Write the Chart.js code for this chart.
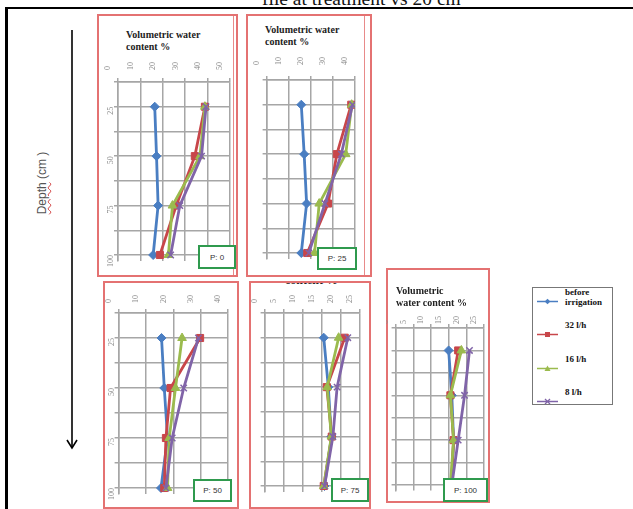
<!DOCTYPE html>
<html>
<head>
<meta charset="utf-8">
<script src="https://cdn.jsdelivr.net/npm/chart.js@4.4.1/dist/chart.umd.min.js"></script>
<style>
  html, body { margin: 0; padding: 0; background: #fff; }
  #page { position: relative; width: 633px; height: 509px; overflow: hidden; background: #fff; }
  .abs { position: absolute; }
  .frame-top { left: 5px; top: 7px; width: 628px; height: 2px; background: #000; }
  .frame-left { left: 5px; top: 7px; width: 3px; height: 502px; background: #000; }
  .caption { left: 262px; top: -11px; font: 19.5px "Liberation Serif", serif; color: #111; white-space: nowrap; line-height: 19.5px; }
  .panel { box-sizing: border-box; border: 2px solid #e47272; background: #fff; overflow: hidden; }
  .inner-line { width: 1px; background: #e88a8a; }
  .vtitle { font: bold 10px "Liberation Serif", serif; color: #222; line-height: 12px; white-space: nowrap; }
  .pbox { box-sizing: border-box; border: 2px solid #2f9a4e; background: #fff; font: 8px "Liberation Sans", sans-serif;
          color: #333; display: flex; align-items: center; justify-content: center; }
  canvas { position: absolute; }
  #legend { left: 532px; top: 287px; width: 81px; height: 118px; box-sizing: border-box; border: 1.5px solid #777; background: #fff; }
  .leg-item { position: absolute; left: 4px; }
  .leg-text { position: absolute; left: 28px; top: -5px; font: bold 9px "Liberation Serif", serif; color: #111; line-height: 10px; white-space: nowrap; }
  .depth { left: 42px; top: 183px; transform: translate(-50%, -50%) rotate(-90deg); font: 12px "Liberation Sans", sans-serif;
           color: #555; white-space: nowrap; }
  .depth u { text-decoration: underline wavy #d04040; text-decoration-thickness: 1px; }
</style>
</head>
<body>
<div id="page">
  <div class="abs caption">file at treatment vs 20 cm</div>
  <div class="abs frame-top"></div>
  <div class="abs frame-left"></div>

  <svg class="abs" style="left:60px;top:25px" width="25" height="430">
    <line x1="12" y1="5" x2="12" y2="423" stroke="#000" stroke-width="1.6"/>
    <polyline points="7,415 12,423 17,415" fill="none" stroke="#000" stroke-width="1.6"/>
  </svg>
  <div class="abs depth"><u>Depth</u> (cm )</div>
  <div id="legend" class="abs"></div>
</div>

<script>
// soil depth of each reading (cm)
const depths = [25, 50, 75, 100];
const seriesNames = ["before irrigation", "32 l/h", "16 l/h", "8 l/h"];
const panelLabels = ["P: 0", "P: 25", "P: 50", "P: 75", "P: 100"];
const xMaxima = [50, 40, 40, 25, 25];
const xSteps = [10, 10, 10, 5, 5];

// volumetric water content %, one row per panel, values at 25/50/75/100 cm
const beforeIrrigation = [
  [16.4, 17.2, 17.9, 15.7],
  [15.7, 17.0, 18.1, 15.7],
  [15.7, 16.7, 17.9, 15.5],
  [15.5, 16.7, 17.5, 15.7],
  [15.0, 15.9, 16.4, 15.9]
];
const flow32 = [
  [38.8, 34.3, 26.0, 18.7],
  [38.3, 31.8, 27.8, 18.4],
  [29.8, 19.0, 17.3, 16.7],
  [21.0, 16.3, 17.6, 15.5],
  [17.7, 15.5, 16.4, 15.7]
];
const flow16 = [
  [38.8, 36.6, 24.3, 22.5],
  [38.5, 35.8, 23.8, 21.7],
  [23.2, 20.8, 18.5, 17.9],
  [19.4, 16.4, 17.5, 15.5],
  [18.6, 15.5, 16.4, 15.5]
];
const flow8 = [
  [39.3, 37.3, 27.6, 23.5],
  [38.9, 33.8, 26.4, 19.1],
  [29.2, 23.8, 19.6, 17.3],
  [21.8, 19.0, 17.9, 15.7],
  [20.9, 19.5, 17.7, 15.9]
];

const seriesValues = [beforeIrrigation, flow32, flow16, flow8];
const seriesColors = ["#4a7ec2", "#c8464a", "#9bbb4e", "#8064a8"];
const seriesPoints = ["rectRot", "rect", "triangle", "crossRot"];
const seriesRadius = [4.5, 5, 5, 4.5];

// box = red frame, plot = grid area (left/right at x min/max, top at 12.5 cm, y100 at 100 cm)
const layoutInfo = [
  { box: [97, 14, 141, 263], plot: { left: 118, right: 230, top: 82, y100: 255 }, yLabels: true,
    labelPad: 8, title: ["Volumetric water", "content %"], titlePos: [126, 29], pbox: [198, 245, 38, 24], inner: 233 },
  { box: [246, 14, 126, 263], plot: { left: 256, right: 355, top: 80, y100: 253 }, yLabels: false,
    labelPad: 11, title: ["Volumetric water", "content %"], titlePos: [265, 24], pbox: [317, 247, 40, 23], inner: 364 },
  { box: [103, 281, 136, 228], plot: { left: 117, right: 228, top: 313, y100: 488 }, yLabels: true,
    labelPad: 6, title: null, pbox: [193, 479, 39, 23] },
  { box: [249, 281, 122, 228], plot: { left: 255, right: 360, top: 313, y100: 486 }, yLabels: false,
    labelPad: 6, title: null, pbox: [331, 478, 38, 24] },
  { box: [386, 268, 104, 235], plot: { left: 393, right: 485, top: 328, y100: 485 }, yLabels: false,
    labelPad: 0, title: ["Volumetric", "water content %"], titlePos: [396, 285], pbox: [443, 478, 45, 24] }
];

const page = document.getElementById("page");
const gridColor = "#a6a6a6";

function addDiv(cls, l, t, w, h, html) {
  const d = document.createElement("div");
  d.className = "abs " + cls;
  d.style.left = l + "px";
  d.style.top = t + "px";
  if (w != null) d.style.width = w + "px";
  if (h != null) d.style.height = h + "px";
  if (html != null) d.innerHTML = html;
  page.appendChild(d);
  return d;
}

layoutInfo.forEach(function (info, idx) {
  const [bl, bt, bw, bh] = info.box;
  const panel = addDiv("panel", bl, bt, bw, bh);
  if (idx === 3) {
    // clipped axis title peeking over the frame
    const t = document.createElement("div");
    t.className = "vtitle";
    t.style.cssText = "position:absolute;left:34px;top:-9px;font-size:12px;";
    t.textContent = "content %";
    panel.appendChild(t);
  }
  if (info.inner) addDiv("inner-line", info.inner, bt + 2, null, bh - 4);
  if (info.title) addDiv("vtitle", info.titlePos[0], info.titlePos[1], null, null, info.title.join("<br>"));

  const canvas = document.createElement("canvas");
  canvas.width = bw;
  canvas.height = bh;
  canvas.style.left = bl + "px";
  canvas.style.top = bt + "px";
  page.appendChild(canvas);

  const p = info.plot;
  const bottom = p.y100 + (p.y100 - p.top) * 3 / 87.5;

  const datasets = seriesValues.map(function (vals, k) {
    return {
      label: seriesNames[k],
      data: depths.map(function (d, i) { return { x: vals[idx][i], y: d }; }),
      showLine: true,
      borderColor: seriesColors[k],
      backgroundColor: seriesColors[k],
      borderWidth: 2.8,
      pointStyle: seriesPoints[k],
      pointRadius: seriesRadius[k],
      pointBorderWidth: k === 3 ? 1.5 : 1,
      order: 4 - k
    };
  });

  new Chart(canvas, {
    type: "scatter",
    data: { datasets: datasets },
    options: {
      responsive: false,
      animation: false,
      layout: { padding: { left: 0, top: 0, right: bl + bw - p.right, bottom: bt + bh - bottom } },
      plugins: { legend: { display: false }, tooltip: { enabled: false } },
      scales: {
        x: {
          type: "linear",
          position: "top",
          min: 0,
          max: xMaxima[idx],
          ticks: { stepSize: xSteps[idx], minRotation: 90, maxRotation: 90, padding: info.labelPad,
                   color: "#8a8a8a", font: { family: "Liberation Serif", size: 8 } },
          grid: { color: gridColor, lineWidth: 1.5, tickLength: 4 },
          border: { color: gridColor, width: 1.5 },
          afterFit: function (s) { s.height = p.top - bt; }
        },
        y: {
          type: "linear",
          reverse: true,
          min: 12.5,
          max: 103,
          ticks: { stepSize: 12.5, includeBounds: false, display: info.yLabels, minRotation: 90, maxRotation: 90,
                   padding: 3, color: "#8a8a8a", font: { family: "Liberation Serif", size: 8 },
                   callback: function (v) { return v % 25 === 0 ? v : ""; } },
          grid: { color: gridColor, lineWidth: 1.5, tickLength: 4 },
          border: { color: gridColor, width: 1.5 },
          afterFit: function (s) { s.width = p.left - bl; }
        }
      }
    }
  });

  const [pl, pt, pw, ph] = info.pbox;
  addDiv("pbox", pl, pt, pw, ph, panelLabels[idx]);
});

// legend with line + marker samples
const legend = document.getElementById("legend");
const legendRows = [8, 41, 75, 108];
const markerSvg = [
  function (c) { return '<rect x="8.5" y="2.5" width="4" height="4" fill="' + c + '" transform="rotate(45 10.5 4.5)"/>'; },
  function (c) { return '<rect x="8" y="2" width="5" height="5" fill="' + c + '"/>'; },
  function (c) { return '<polygon points="10.5,1.5 13.5,7 7.5,7" fill="' + c + '"/>'; },
  function (c) { return '<path d="M8 2 L13 7 M13 2 L8 7" stroke="' + c + '" stroke-width="1.3"/>'; }
];
seriesNames.forEach(function (name, k) {
  const item = document.createElement("div");
  item.className = "leg-item";
  item.style.top = (legendRows[k] - 4.5) + "px";
  const text = k === 0 ? "before<br>irrigation" : name;
  item.innerHTML = '<svg width="22" height="9"><line x1="0" y1="4.5" x2="21" y2="4.5" stroke="' + seriesColors[k] +
    '" stroke-width="1.5"/>' + markerSvg[k](seriesColors[k]) + '</svg><div class="leg-text">' + text + '</div>';
  legend.appendChild(item);
});
</script>
</body>
</html>
